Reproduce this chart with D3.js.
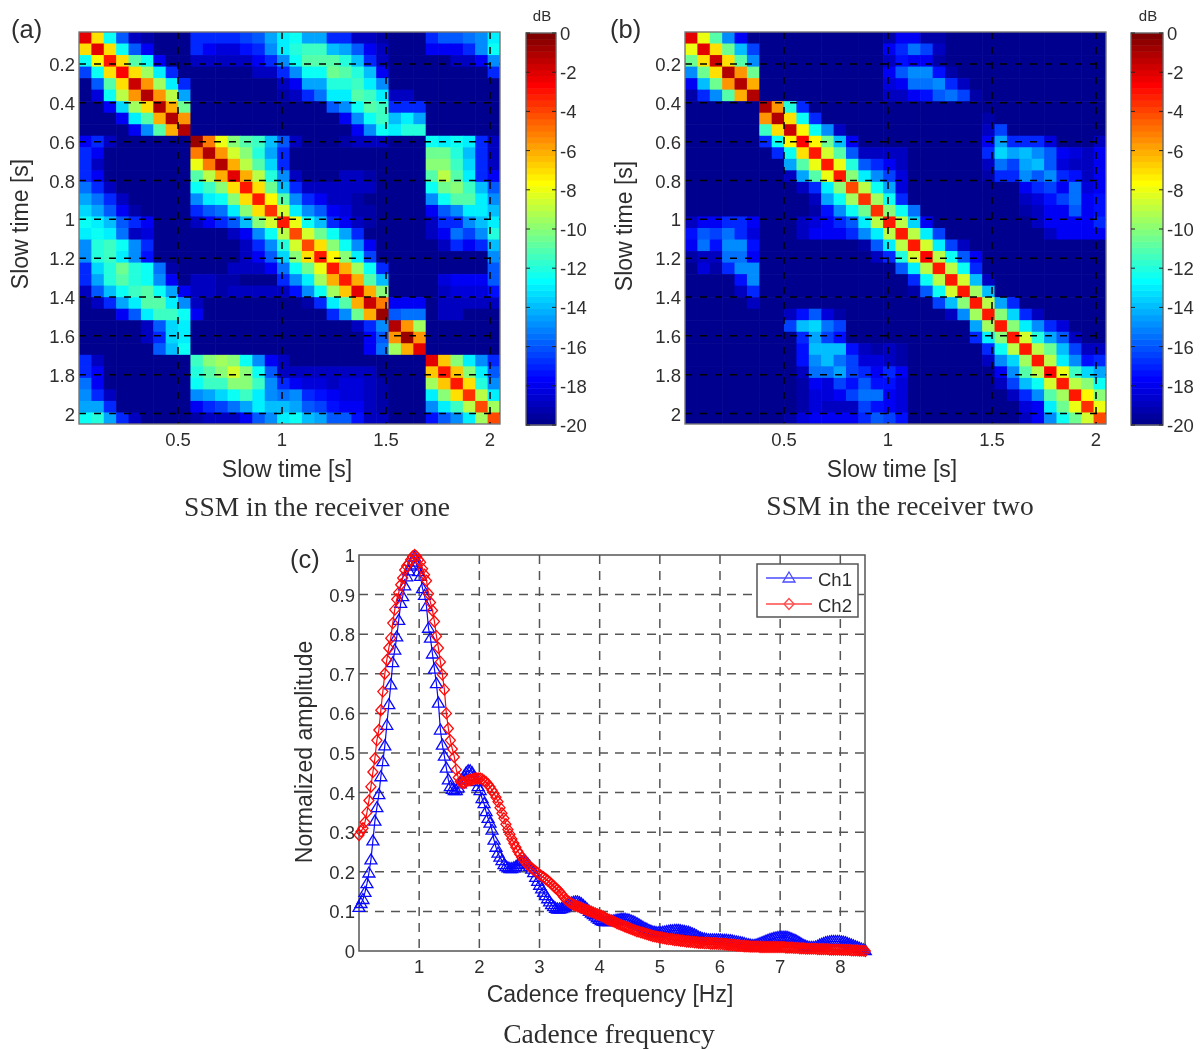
<!DOCTYPE html>
<html>
<head>
<meta charset="utf-8">
<script src="https://cdn.jsdelivr.net/npm/d3@7"></script>
<style>
  html, body { margin: 0; padding: 0; background: #fff; }
  svg { display: block; filter: blur(0.6px); }
  text { font-family: "Liberation Sans", Arial, sans-serif; fill: #2e2e2e; }
  .caption { font-family: "Liberation Serif", serif; }
</style>
</head>
<body>
<svg width="1202" height="1049"></svg>
<script>
// Attenuation in dB below the peak (drawn as negative), one row per slow time cell
const ssmOne = [
[2,7,12.5,16,19,19.5,20,20,20,17,17,17,17,16.5,16,14.5,13,12.5,14.5,14.5,17,17,19,19,19.5,20,20,20,17,16,16,15.5,15,13],
[7,2,7,12.5,16,18,20,20,20,17,18,18.5,18.5,17.5,17,15,13,12,11.5,11.5,14,14.5,16,18,19,20,20,20,18,18,18,17,15,12.5],
[12.5,7.5,3,7,11,12.5,18,20,20,19,19,19,19,19,18,17,15,12.5,11,11,11,12,14,17,19,20,20,20,20,20,19,19,18,15],
[16.5,12.5,7,2.5,7,9.5,13,17,20,20,20,20,20,20,19,19,17,15,12.5,12.5,10.5,11,12,14,18,20,20,20,20,20,20,20,20,17],
[20,16,11,7,1.5,5.5,9.5,13,17,20,20,20,20,20,20,20,19,18,14.5,14.5,12,12,11.5,13,15,20,20,20,20,20,20,20,20,20],
[20,18.5,12.5,9,5.5,1,5.5,9,14.5,20,20,20,20,20,20,20,19.5,19,17,15.5,13,13,11,11.5,13,19,19,20,20,20,20,20,20,20],
[20,20,18,13.5,9.5,7,1,6,10.5,20,20,20,20,20,20,20,20,20,20,20,16,15,12.5,11,11.5,17,17,17,20,20,20,20,20,20],
[20,20,20,18,13,11,6,1,5.5,20,20,20,20,20,20,20,20,20,20,20,20,18,15,12.5,11.5,14,13,14.5,20,20,20,20,20,20],
[20,20,20,20,18,15,11,6,1,20,20,20,20,20,20,20,20,20,20,20,20,20,18,15,12.5,13,12,12,20,20,20,20,20,20],
[18,17,19,20,20,20,20,20,20,0.5,5,8,10,11,11.5,14,16,19,20,20,20,19.5,19,19,19,20,20,20,12.5,13,12.5,13,17,19],
[17,18,20,20,20,20,20,20,20,5,1,5.5,8.5,10,12,14.5,17,20,20,20,20,20,20,20,20,20,20,20,10.5,10.5,12,14,17,19],
[17,19,20,20,20,20,20,20,20,8,5,1,6,9,11,13.5,17,20,20,20,20,20,20,20,20,20,20,20,10,10,11.5,13.5,17,19],
[17,18,20,20,20,20,20,20,20,11,9,6,2,6,9,12,15,19,20,20,20,19,19,19.5,20,20,20,20,11,9,11,13,17,18],
[15.5,17,19,20,20,20,20,20,20,12.5,11.5,10,7,3,7,10.5,14,17,19,19,19,19,19,19,20,20,20,20,12.5,10.5,10,11.5,14,16],
[14.5,15.5,17,19,20,20,20,20,20,15,13,12.5,10,7,3,7.5,11,15,17,18,19,19,19.5,20,20,20,20,20,15,12.5,11,11,13,15],
[13.5,14.5,16,18,19.5,20,20,20,20,17,16,15.5,13,10,7,3.5,8.5,13,15,16,18,18.5,19.5,19.5,20,20,20,20,18,16,15,13,13,14],
[12.5,13,14,16,17,18,20,20,20,19,18,17,16,14,10,8.5,3,8,12.5,14,17,18,19,19.5,20,20,20,20,19,17,17,15,14,13],
[13,12.5,13,15.5,19,18.5,20,20,20,20,20,20,19,18,15,12.5,9,4,8.5,10.5,12.5,14.5,17,20,20,20,20,20,19,18,15.5,16.5,15,12],
[15,12,11.5,12.5,15,17,20,20,20,20,20,20,20,19,17,15,12,8.5,4,7,10,12.5,15,18,20,20,20,20,20,19,17,18,17,14],
[15,12,11.5,13,15,17.5,20,20,20,20,20,20,20,19,18,16,13.5,10,7,3,7.5,10,13,16.5,20,20,20,20,20,20,20,20,20,15],
[17,13.5,12,10.5,12,12.5,15.5,19.5,20,20,20,20,19,19,19,18,15.5,12.5,10.5,8,3,6,9.5,12.5,17,20,20,20,20,20,20,20,20,16],
[17,14.5,12,11,12,12.5,15,18,20,19,19,19.5,19.5,20,20,20,17,15,13,9.5,6,3,6,11,14,20,20,20,20,18.5,18,18,18,16],
[19,16,14,12.5,11.5,11,12.5,14.5,18,19,19,19.5,19,19,19,19,19,17.5,15,12.5,9.5,6.5,2,6,10,20,20,20,20,19,18.5,18.5,18.5,17.5],
[20,19,17,14.5,13,11,11,13,15,19,20,20,20,20,20,20,20,20,19.5,17,13,11,6,1.5,5,18,18,18,20,19,19,19,19,19],
[20,20,20,18,16,13,11.5,11.5,12.5,18,20,20,20,20,20,20,20,20,20,20,17,15,10.5,6,0.5,16,15.5,15.5,20,19,19,20,20,20],
[20,20,20,20,20,19,16,13.5,13,20,20,20,20,20,20,20,20,20,20,20,20,20,19,17,15,1,5.5,9.5,20,20,20,20,20,20],
[20,20,20,20,20,19,17,13.5,13,20,20,20,20,20,20,20,20,20,20,20,20,20,20,18,16,5.5,0.5,5.5,20,20,20,20,20,20],
[20,20,20,20,20,20,16,14,12.5,20,20,20,20,20,20,20,20,20,20,20,20,20,20,18,15.5,9.5,6,2,20,20,20,20,20,20],
[17,19,20,20,20,20,20,20,20,11.5,10,9.5,10,12.5,15,18,19,20,20,20,20,20,20,20,20,20,20,20,2,6.5,10,13,15,17],
[17,18,20,20,20,20,20,20,20,12,11,10,8.5,10,12.5,16,19,19,19,19,19,19,19,19,20,20,20,20,6.5,3,6.5,10,13,16],
[15.5,18,20,20,20,20,20,20,20,12.5,11.5,11.5,10,10,11.5,15,17,18,18.5,18.5,19,18.5,18.5,19,19.5,20,20,20,9.5,6.5,3,7,12,15],
[15,17,19,20,20,20,20,20,20,15,14.5,13.5,12.5,11.5,13,15,15.5,15,17,17.5,18,18.5,18.5,19,19.5,20,20,20,13,10,7,3.5,9,13],
[14.5,14.5,17,20,20,20,20,20,20,18,17,16.5,15.5,14.5,13,14,14,14.5,16,16.5,17.5,18,18,19,19.5,20,20,20,15,13,11.5,9,4,9.5],
[12.5,12,14.5,17,19,20,20,20,20,19.5,19,19,19,18,16,15,13,12.5,14,14.5,16,16,17.5,19,19,20,20,20,17.5,16,15,13,9.5,4]
];

const ssmTwo = [
[2,8,11,15,18,20,20,20,20,20,20,20,20,20,20,20,19.5,18,18,19.5,19.5,20,20,20,20,20,20,20,20,20,20,20,20,20],
[8,2,7,10.5,14,16.5,20,20,20,20,20,20,20,20,20,20,18,17,15.5,16.5,19,20,20,20,20,20,20,20,20,20,20,20,20,20],
[10.5,7,1.5,7,11,15,20,20,20,20,20,20,20,20,20,20,19,17.5,18,18,19.5,20,20,20,20,20,20,20,20,20,20,20,20,20],
[15,10.5,7,1,5.5,10.5,20,20,20,20,20,20,20,20,20,20,18,16,15,15,17.5,19.5,20,20,20,20,20,20,20,20,20,20,20,20],
[18,14,10.5,5.5,1,6,20,20,20,20,20,20,20,20,20,20,18.5,18,15.5,15.5,15,17,19,20,20,20,20,20,20,20,20,20,20,20],
[19.5,17,15,11,6,1,20,20,20,20,20,20,20,20,20,20,19,19,18,17.5,16,15.5,16.5,19.5,20,20,20,20,20,20,20,20,20,20],
[20,20,20,20,20,20,1,5.5,12,17,20,20,20,20,20,20,20,20,20,20,20,20,20,20,20,20,20,20,20,20,20,20,20,20],
[20,20,20,20,20,20,5.5,1,7,12.5,17,20,20,20,20,20,20,20,20,20,20,20,20,20,19.5,20,20,20,20,20,20,20,20,20],
[20,20,20,20,20,20,11.5,7,1.5,7.5,12.5,15,19,20,20,20,20,20,20,20,20,20,20,20,19,16.5,20,20,20,20,20,20,20,20],
[20,20,20,20,20,20,17,12.5,7.5,2.5,7.5,10.5,14,18,20,20,20,20,20,20,20,20,20,20,18,14.5,17,17,17,18.5,20,20,20,19],
[20,20,20,20,20,20,20,17,12.5,7,3,8.5,11,16,19,19,19,19,20,20,20,20,20,20,17,13.5,14.5,14,15,16,18,18.5,19,18],
[20,20,20,20,20,20,20,20,14.5,11,8,3,8,12,16,17,18,19,20,20,20,20,20,20,19,15.5,16.5,14.5,14,16,18.5,19,19,18],
[20,20,20,20,20,20,20,20,19,14.5,11,8,3,10,13,15,16.5,18.5,20,20,20,20,20,20,19.5,17,17,15,16,15,17,17.5,19,18],
[20,20,20,20,20,20,20,20,20,19,17,13,10,4,9,12.5,14.5,18.5,20,20,20,20,20,20,20,20,20,18,17,16.5,18,15.5,18.5,18],
[20,20,20,20,20,20,20,20,20,20,19,14.5,12.5,9.5,3.5,9.5,12.5,17,20,20,20,20,20,20,20,20,20,19,18.5,17.5,16.5,15.5,18,17.5],
[20,20,20,20,20,20,20,20,20,20,19.5,17.5,15,12.5,10.5,3.5,10,12.5,15.5,20,20,20,20,20,20,20,20,19.5,19,18,18,16,18,17.5],
[19,18,18,17,17,18,20,20,20,19,18.5,18,17,16,13,9,3,9,13.5,18,20,20,20,20,20,20,20,20,19,18,18,18,18,17],
[17.5,16,16.5,15.5,17,18.5,20,20,20,19,18,18,18,17,15,13,9,3,9,13,16.5,20,20,20,20,20,20,20,20,19,18,18,18,18],
[18,15.5,17.5,15,15,17.5,20,20,20,20,20,20,20,20,19.5,16,13,9,3,8.5,13,16.5,19,20,20,20,20,20,20,20,20,20,20,20],
[19.5,19,19,15.5,15.5,18,20,20,20,20,20,20,20,20,20,19,17,12,8.5,2.5,9,12.5,16,18,20,20,20,20,20,20,20,20,20,20],
[20,18.5,19.5,17,15,15,20,20,20,20,20,20,20,20,20,20,20,16,13,9,3,9,12.5,17,20,20,20,20,20,20,20,20,20,20],
[20,20,20,20,17.5,15,20,20,20,20,20,20,20,20,20,20,20,20,17,12.5,9,3,8.5,14,19,20,20,20,20,20,20,20,20,20],
[20,20,20,20,19,17,20,20,20,20,20,20,20,20,20,20,20,20,19.5,16,12.5,8.5,3,9.5,14,20,20,20,20,20,20,20,20,20],
[20,20,20,20,20,19,20,20,20,20,20,20,20,20,20,20,20,20,20,20,16.5,14,10,3,9,14.5,17,20,20,20,20,20,20,20],
[20,20,20,20,20,20,20,20,19,17.5,16,18.5,19.5,20,20,20,20,20,20,20,20,19,15,9.5,3,10,13.5,17,19,20,20,20,20,20],
[20,20,20,20,20,20,20,20,16.5,14,13.5,15.5,16.5,20,20,20,20,20,20,20,20,20,20,14.5,9.5,3,10,13,15,17,18.5,20,20,20],
[20,20,20,20,20,20,20,20,20,17,14.5,16.5,17.5,20,20,20,20,20,20,20,20,20,20,17,13,10,3,8.5,12,14.5,16,19,20,20],
[20,20,20,20,20,20,20,20,20,17.5,14,14,14,17.5,19,19.5,19,19.5,20,20,20,20,20,20,17,12.5,9,3,9,10.5,14,16.5,19,19],
[20,20,20,20,20,20,20,20,20,17.5,15,14,15.5,16.5,18.5,18.5,19,19.5,20,20,20,20,20,20,19,15,13.5,9.5,3,9,13,15,17.5,17],
[20,20,20,20,20,20,20,20,20,19,15.5,15.5,14.5,16.5,17,18,17,18,20,20,20,20,20,20,20,18,15,11,9,2.5,8,11.5,13.5,14.5],
[20,20,20,20,20,20,20,20,20,19.5,18,18.5,16.5,17.5,16,17.5,17.5,18.5,20,20,20,20,20,20,20,19,16.5,14,12.5,8.5,3,9,10,12.5],
[20,20,20,20,20,20,20,20,20,19.5,18.5,18.5,18,16.5,15.5,15.5,18,18.5,20,20,20,20,20,20,20,20,19,17,15,11,9.5,3,7.5,10],
[20,20,20,20,20,20,20,20,20,19.5,18.5,19,19,19,16.5,17.5,18,18.5,20,20,20,20,20,20,20,20,20,18.5,18,13,10.5,8,3.5,8],
[20,20,20,20,20,20,20,20,19.5,18.5,18,18,18,18,17,16,16.5,17.5,20,20,20,20,20,20,20,20,20,19,18,15,12.5,10.5,8.5,4]
];

const slowTicksX = [0.5, 1, 1.5, 2];
const slowTicksY = [0.2, 0.4, 0.6, 0.8, 1, 1.2, 1.4, 1.6, 1.8, 2];
const colorbarTicks = [0, -2, -4, -6, -8, -10, -12, -14, -16, -18, -20];
const cadenceTicksX = [1, 2, 3, 4, 5, 6, 7, 8];
const cadenceTicksY = [0, 0.1, 0.2, 0.3, 0.4, 0.5, 0.6, 0.7, 0.8, 0.9, 1];

// Cadence spectrum, one value per frequency bin (bin width below)
const binWidth = 0.033;
const ch1 = [
.110,.120,.130,.148,.170,.197,.230,.278,.328,.362,
.395,.440,.478,.518,.570,.622,.672,.728,.760,.793,
.835,.878,.895,.922,.945,.960,.972,.982,.995,.975,
.958,.946,.915,.898,.870,.815,.790,.750,.712,.675,
.626,.558,.520,.492,.462,.432,.415,.408,.405,.405,
.412,.422,.432,.442,.450,.455,.455,.450,.440,.428,
.415,.405,.385,.372,.352,.335,.323,.305,.280,.262,
.247,.237,.228,.218,.213,.210,.208,.208,.210,.213,
.218,.222,.226,.228,.226,.220,.214,.207,.198,.186,
.176,.166,.157,.148,.140,.132,.124,.117,.112,.108,
.106,.106,.107,.109,.112,.115,.118,.121,.123,.124,
.124,.122,.119,.115,.110,.105,.100,.096,.092,.088,
.084,.080,.077,.075,.074,.074,.074,.075,.076,.077,
.078,.079,.080,.080,.080,.079,.078,.076,.074,.072,
.069,.066,.063,.060,.057,.055,.052,.050,.048,.047,
.046,.046,.046,.047,.048,.049,.050,.051,.051,.052,
.052,.052,.051,.050,.049,.048,.047,.045,.043,.041,
.038,.035,.033,.031,.030,.029,.028,.028,.028,.028,
.028,.028,.028,.027,.027,.027,.026,.026,.025,.024,
.023,.022,.021,.020,.019,.017,.016,.015,.014,.014,
.015,.017,.019,.021,.023,.025,.027,.029,.030,.032,
.033,.034,.035,.035,.035,.035,.034,.032,.030,.028,
.026,.023,.020,.017,.014,.012,.010,.009,.009,.009,
.010,.012,.015,.017,.019,.021,.022,.023,.024,.024,
.024,.024,.024,.023,.022,.021,.019,.017,.015,.013,
.011,.009,.007,.005,.003,.001
];
const ch2 = [
.293,.302,.310,.325,.350,.380,.415,.452,.486,.532,
.558,.608,.655,.700,.735,.765,.790,.828,.862,.888,
.905,.925,.942,.962,.972,.978,.988,.996,1.00,.996,
.988,.982,.965,.950,.935,.902,.880,.860,.832,.795,
.765,.730,.698,.660,.600,.562,.532,.510,.490,.458,
.438,.428,.425,.425,.428,.431,.432,.433,.435,.436,
.436,.436,.434,.430,.426,.421,.414,.406,.398,.388,
.377,.362,.348,.335,.320,.307,.295,.283,.272,.262,
.252,.244,.236,.229,.223,.218,.213,.209,.205,.201,
.197,.193,.189,.186,.182,.178,.174,.169,.164,.159,
.155,.150,.144,.137,.131,.127,.123,.120,.117,.115,
.113,.111,.109,.107,.105,.103,.101,.099,.097,.095,
.093,.091,.089,.087,.084,.081,.079,.077,.075,.073,
.070,.068,.066,.064,.062,.060,.058,.056,.054,.052,
.050,.049,.047,.046,.044,.043,.041,.040,.038,.037,
.036,.035,.034,.033,.032,.031,.030,.030,.029,.028,
.028,.027,.026,.026,.025,.024,.024,.023,.023,.022,
.022,.021,.021,.021,.020,.020,.020,.019,.019,.019,
.019,.018,.018,.018,.017,.017,.016,.016,.015,.015,
.014,.014,.013,.013,.012,.012,.012,.011,.011,.011,
.011,.011,.010,.010,.010,.010,.010,.010,.010,.010,
.010,.010,.010,.010,.010,.009,.009,.009,.009,.008,
.008,.008,.007,.007,.007,.006,.006,.006,.006,.006,
.006,.005,.005,.005,.005,.005,.005,.004,.004,.004,
.004,.004,.004,.003,.003,.003,.003,.003,.002,.002,
.002,.002,.001,.001,.001,0
];

const svg = d3.select("svg");

// Matlab style jet colormap over -20..0 dB, 64 levels
const jet = d3.scaleLinear()
    .domain([-20, -17.78, -12.7, -7.62, -2.54, 0])
    .range(["#00008f", "#0000ff", "#00ffff", "#ffff00", "#ff0000", "#800000"])
    .clamp(true);

function renderSsm(left, right, top, bottom, matrix) {
    const g = svg.append("g");
    const cols = d3.scaleBand().domain(d3.range(matrix[0].length)).range([left, right]);
    const rows = d3.scaleBand().domain(d3.range(matrix.length)).range([top, bottom]);
    const x = d3.scaleLinear().domain([0.024, 2.048]).range([left, right]);
    const y = d3.scaleLinear().domain([0.035, 2.054]).range([top, bottom]);

    // Draw the cells, a hair oversized so later ones cover the seams
    matrix.forEach(function (row, j) {
        g.append("g").selectAll("rect")
         .data(row)
         .join("rect")
         .attr("x", (d, i) => cols(i))
         .attr("y", rows(j))
         .attr("width", (d, i) => cols.bandwidth() + (i < row.length - 1 ? 0.6 : 0))
         .attr("height", rows.bandwidth() + (j < matrix.length - 1 ? 0.6 : 0))
         .attr("fill", d => jet(-d));
    });

    // Dashed grid on top of the cells
    g.append("g").selectAll("line")
     .data(slowTicksX)
     .join("line")
     .attr("x1", d => x(d)).attr("x2", d => x(d))
     .attr("y1", top).attr("y2", bottom)
     .attr("stroke", "#000").attr("stroke-width", 1.5).attr("stroke-dasharray", "7,8");
    g.append("g").selectAll("line")
     .data(slowTicksY)
     .join("line")
     .attr("y1", d => y(d)).attr("y2", d => y(d))
     .attr("x1", left).attr("x2", right)
     .attr("stroke", "#000").attr("stroke-width", 1.5).attr("stroke-dasharray", "7,8");

    g.append("rect")
     .attr("x", left).attr("y", top)
     .attr("width", right - left).attr("height", bottom - top)
     .attr("fill", "none").attr("stroke", "#777").attr("stroke-width", 1.4);

    g.append("g").selectAll("text")
     .data(slowTicksX)
     .join("text")
     .attr("x", d => x(d)).attr("y", bottom + 22)
     .attr("text-anchor", "middle").attr("font-size", 18.5)
     .text(d => d);
    g.append("g").selectAll("text")
     .data(slowTicksY)
     .join("text")
     .attr("x", left - 4).attr("y", d => y(d) + 7)
     .attr("text-anchor", "end").attr("font-size", 18.5)
     .text(d => d);
}

function renderColorbar(left, right, top, bottom) {
    const g = svg.append("g");
    const levels = d3.range(64);
    const band = d3.scaleBand().domain(levels).range([bottom, top]);
    const y = d3.scaleLinear().domain([-20, 0]).range([bottom, top]);

    g.append("g").selectAll("rect")
     .data(levels)
     .join("rect")
     .attr("x", left).attr("width", right - left)
     .attr("y", d => band(d)).attr("height", band.bandwidth() + 0.5)
     .attr("fill", d => jet(-20 + 20 * d / 63));

    g.append("rect")
     .attr("x", left).attr("y", top)
     .attr("width", right - left).attr("height", bottom - top)
     .attr("fill", "none").attr("stroke", "#666").attr("stroke-width", 1.4);

    // Short ticks inside the bar on both sides
    [[left, left + 4], [right - 4, right]].forEach(function (ends) {
        g.append("g").selectAll("line")
         .data(colorbarTicks)
         .join("line")
         .attr("x1", ends[0]).attr("x2", ends[1])
         .attr("y1", d => y(d)).attr("y2", d => y(d))
         .attr("stroke", "#222");
    });

    g.append("g").selectAll("text")
     .data(colorbarTicks)
     .join("text")
     .attr("x", right + 4).attr("y", d => y(d) + 7)
     .attr("font-size", 18.5)
     .text(d => d);

    g.append("text")
     .attr("x", (left + right) / 2 + 1).attr("y", top - 12)
     .attr("text-anchor", "middle").attr("font-size", 15)
     .text("dB");
}

function renderCadence() {
    const left = 359, right = 865, top = 555, bottom = 951;
    const g = svg.append("g");
    const x = d3.scaleLinear().domain([0, 8.41]).range([left, right]);
    const y = d3.scaleLinear().domain([0, 1]).range([bottom, top]);

    g.append("g").selectAll("line")
     .data(cadenceTicksX)
     .join("line")
     .attr("x1", d => x(d)).attr("x2", d => x(d))
     .attr("y1", top).attr("y2", bottom)
     .attr("stroke", "#555").attr("stroke-width", 1.5).attr("stroke-dasharray", "9,7");
    g.append("g").selectAll("line")
     .data(cadenceTicksY.slice(1, -1))
     .join("line")
     .attr("y1", d => y(d)).attr("y2", d => y(d))
     .attr("x1", left).attr("x2", right)
     .attr("stroke", "#555").attr("stroke-width", 1.5).attr("stroke-dasharray", "9,7");

    g.append("rect")
     .attr("x", left).attr("y", top)
     .attr("width", right - left).attr("height", bottom - top)
     .attr("fill", "none").attr("stroke", "#555").attr("stroke-width", 1.5);

    const line = d3.line().x((d, i) => x(i * binWidth)).y(d => y(d));
    const triangle = "M0,-6L6,4L-6,4Z";
    const diamond = "M0,-5.5L5,0L0,5.5L-5,0Z";

    [[ch1, "#0808ff", triangle], [ch2, "#ff0808", diamond]].forEach(function (s) {
        g.append("path")
         .datum(s[0])
         .attr("d", line)
         .attr("fill", "none").attr("stroke", s[1]).attr("stroke-width", 1.2);
        g.append("g").selectAll("path")
         .data(s[0])
         .join("path")
         .attr("transform", (d, i) => "translate(" + x(i * binWidth) + "," + y(d) + ")")
         .attr("d", s[2])
         .attr("fill", "none").attr("stroke", s[1]).attr("stroke-width", 1.3);
    });

    g.append("g").selectAll("text")
     .data(cadenceTicksX)
     .join("text")
     .attr("x", d => x(d)).attr("y", bottom + 22)
     .attr("text-anchor", "middle").attr("font-size", 18.5)
     .text(d => d);
    g.append("g").selectAll("text")
     .data(cadenceTicksY)
     .join("text")
     .attr("x", left - 4).attr("y", d => y(d) + 7)
     .attr("text-anchor", "end").attr("font-size", 18.5)
     .text(d => d);

    // Legend
    const legend = g.append("g");
    legend.append("rect")
     .attr("x", 757).attr("y", 564).attr("width", 101).attr("height", 53)
     .attr("fill", "#fff").attr("stroke", "#555").attr("stroke-width", 1.5);
    [["Ch1", "#4a4aff", triangle, 578], ["Ch2", "#ff4a4a", diamond, 604]].forEach(function (s) {
        legend.append("line")
         .attr("x1", 766).attr("x2", 812).attr("y1", s[3]).attr("y2", s[3])
         .attr("stroke", s[1]).attr("stroke-width", 1.3);
        legend.append("path")
         .attr("transform", "translate(789," + s[3] + ")")
         .attr("d", s[2])
         .attr("fill", "none").attr("stroke", s[1]).attr("stroke-width", 1.3);
        legend.append("text")
         .attr("x", 818).attr("y", s[3] + 8)
         .attr("font-size", 18.5)
         .text(s[0]);
    });
}

renderSsm(79, 500, 32, 424, ssmOne);
renderSsm(685, 1106, 32, 424, ssmTwo);
renderColorbar(526, 556, 33, 425);
renderColorbar(1131, 1163, 33, 425);
renderCadence();

// Panel letters, axis titles and captions
const labels = [
    ["(a)", 11, 38],
    ["(b)", 610, 38],
    ["(c)", 290, 568]
];
labels.forEach(function (d) {
    svg.append("text").attr("x", d[1]).attr("y", d[2]).attr("font-size", 25.5).text(d[0]);
});

const titles = [
    ["Slow time [s]", 287, 477, 0],
    ["Slow time [s]", 892, 477, 0],
    ["Cadence frequency [Hz]", 610, 1002, 0],
    ["Slow time [s]", 28, 224, -90],
    ["Slow time [s]", 632, 226, -90],
    ["Normalized amplitude", 312, 752, -90]
];
titles.forEach(function (d) {
    svg.append("text")
       .attr("transform", "translate(" + d[1] + "," + d[2] + ") rotate(" + d[3] + ")")
       .attr("text-anchor", "middle").attr("font-size", 23)
       .text(d[0]);
});

const captions = [
    ["SSM in the receiver one", 317, 516],
    ["SSM in the receiver two", 900, 515],
    ["Cadence frequency", 609, 1043]
];
captions.forEach(function (d) {
    svg.append("text")
       .attr("class", "caption")
       .attr("x", d[1]).attr("y", d[2])
       .attr("text-anchor", "middle").attr("font-size", 27.5)
       .text(d[0]);
});
</script>
</body>
</html>
